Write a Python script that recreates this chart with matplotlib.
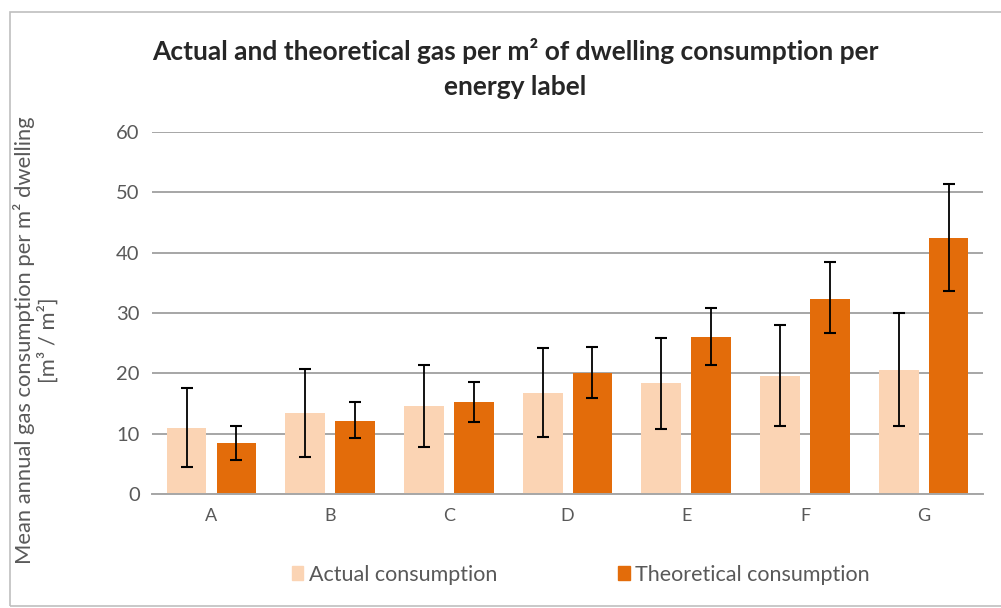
import numpy as np
import matplotlib.pyplot as plt
from matplotlib.patches import Rectangle, Patch

labels = ["A", "B", "C", "D", "E", "F", "G"]
actual = [10.9, 13.4, 14.6, 16.8, 18.4, 19.6, 20.6]
actual_hi = [17.6, 20.7, 21.4, 24.2, 25.9, 28.0, 30.0]
actual_lo = [4.5, 6.1, 7.8, 9.5, 10.8, 11.2, 11.2]
theor = [8.5, 12.1, 15.3, 20.1, 26.0, 32.3, 42.5]
theor_hi = [11.3, 15.3, 18.6, 24.3, 30.8, 38.4, 51.4]
theor_lo = [5.6, 9.3, 11.9, 15.9, 21.3, 26.6, 33.7]

c_act = "#FBD4B4"
c_theo = "#E36C0A"
grey_txt = "#595959"

plt.rcParams['font.family'] = ['Lato', 'DejaVu Sans']

fig = plt.figure(figsize=(10.01, 6.08), dpi=100)
ax = fig.add_axes([0.152, 0.1875, 0.830, 0.5955])

x = np.arange(len(labels))
w = 0.335
off = 0.21
a = np.array(actual)
t = np.array(theor)
ax.bar(x - off, a, width=w, color=c_act, zorder=2)
ax.bar(x + off, t, width=w, color=c_theo, zorder=2)
ax.errorbar(x - off, a, yerr=[a - np.array(actual_lo), np.array(actual_hi) - a],
            fmt="none", ecolor="black", elinewidth=1.3, capsize=4.6, capthick=1.5, zorder=3)
ax.errorbar(x + off, t, yerr=[t - np.array(theor_lo), np.array(theor_hi) - t],
            fmt="none", ecolor="black", elinewidth=1.3, capsize=4.6, capthick=1.5, zorder=3)

ax.set_ylim(0, 60)
ax.set_xlim(-0.5, 6.5)
ax.set_yticks(range(0, 61, 10))
ax.set_xticks(x)
ax.set_xticklabels(labels)
ax.yaxis.grid(True, color="#A6A6A6", linewidth=1.4, zorder=0)
ax.set_axisbelow(True)
for s in ["top", "right", "left"]:
    ax.spines[s].set_visible(False)
ax.spines["bottom"].set_color("#A6A6A6")
ax.spines["bottom"].set_linewidth(1.4)
ax.tick_params(length=0, labelsize=14.5, labelcolor=grey_txt, pad=9)
ax.tick_params(axis="x", pad=10, labelsize=13)

fig.text(0.036, 0.44, "Mean annual gas consumption per m² dwelling\n[m³ / m²]",
         rotation=90, ha="center", va="center", fontsize=15.8, color=grey_txt,
         linespacing=1.15)

fig.text(0.515, 0.888, "Actual and theoretical gas per m² of dwelling consumption per\nenergy label",
         ha="center", va="center", fontsize=19, fontweight="bold", color="#262626",
         linespacing=1.55)

handles = [Patch(color=c_act, label="Actual consumption"),
           Patch(color=c_theo, label="Theoretical consumption")]
fig.legend(handles=handles, loc="center", bbox_to_anchor=(0.580, 0.055), ncol=2,
           frameon=False, fontsize=15.5, labelcolor=grey_txt, columnspacing=5.6,
           handlelength=0.55, handleheight=0.6, handletextpad=0.25)

fig.patches.append(Rectangle((0.010, 0.003), 1.2, 0.977, transform=fig.transFigure,
                             fill=False, edgecolor="#BFBFBF", linewidth=1.2))

fig.savefig("out.png", dpi=100)
